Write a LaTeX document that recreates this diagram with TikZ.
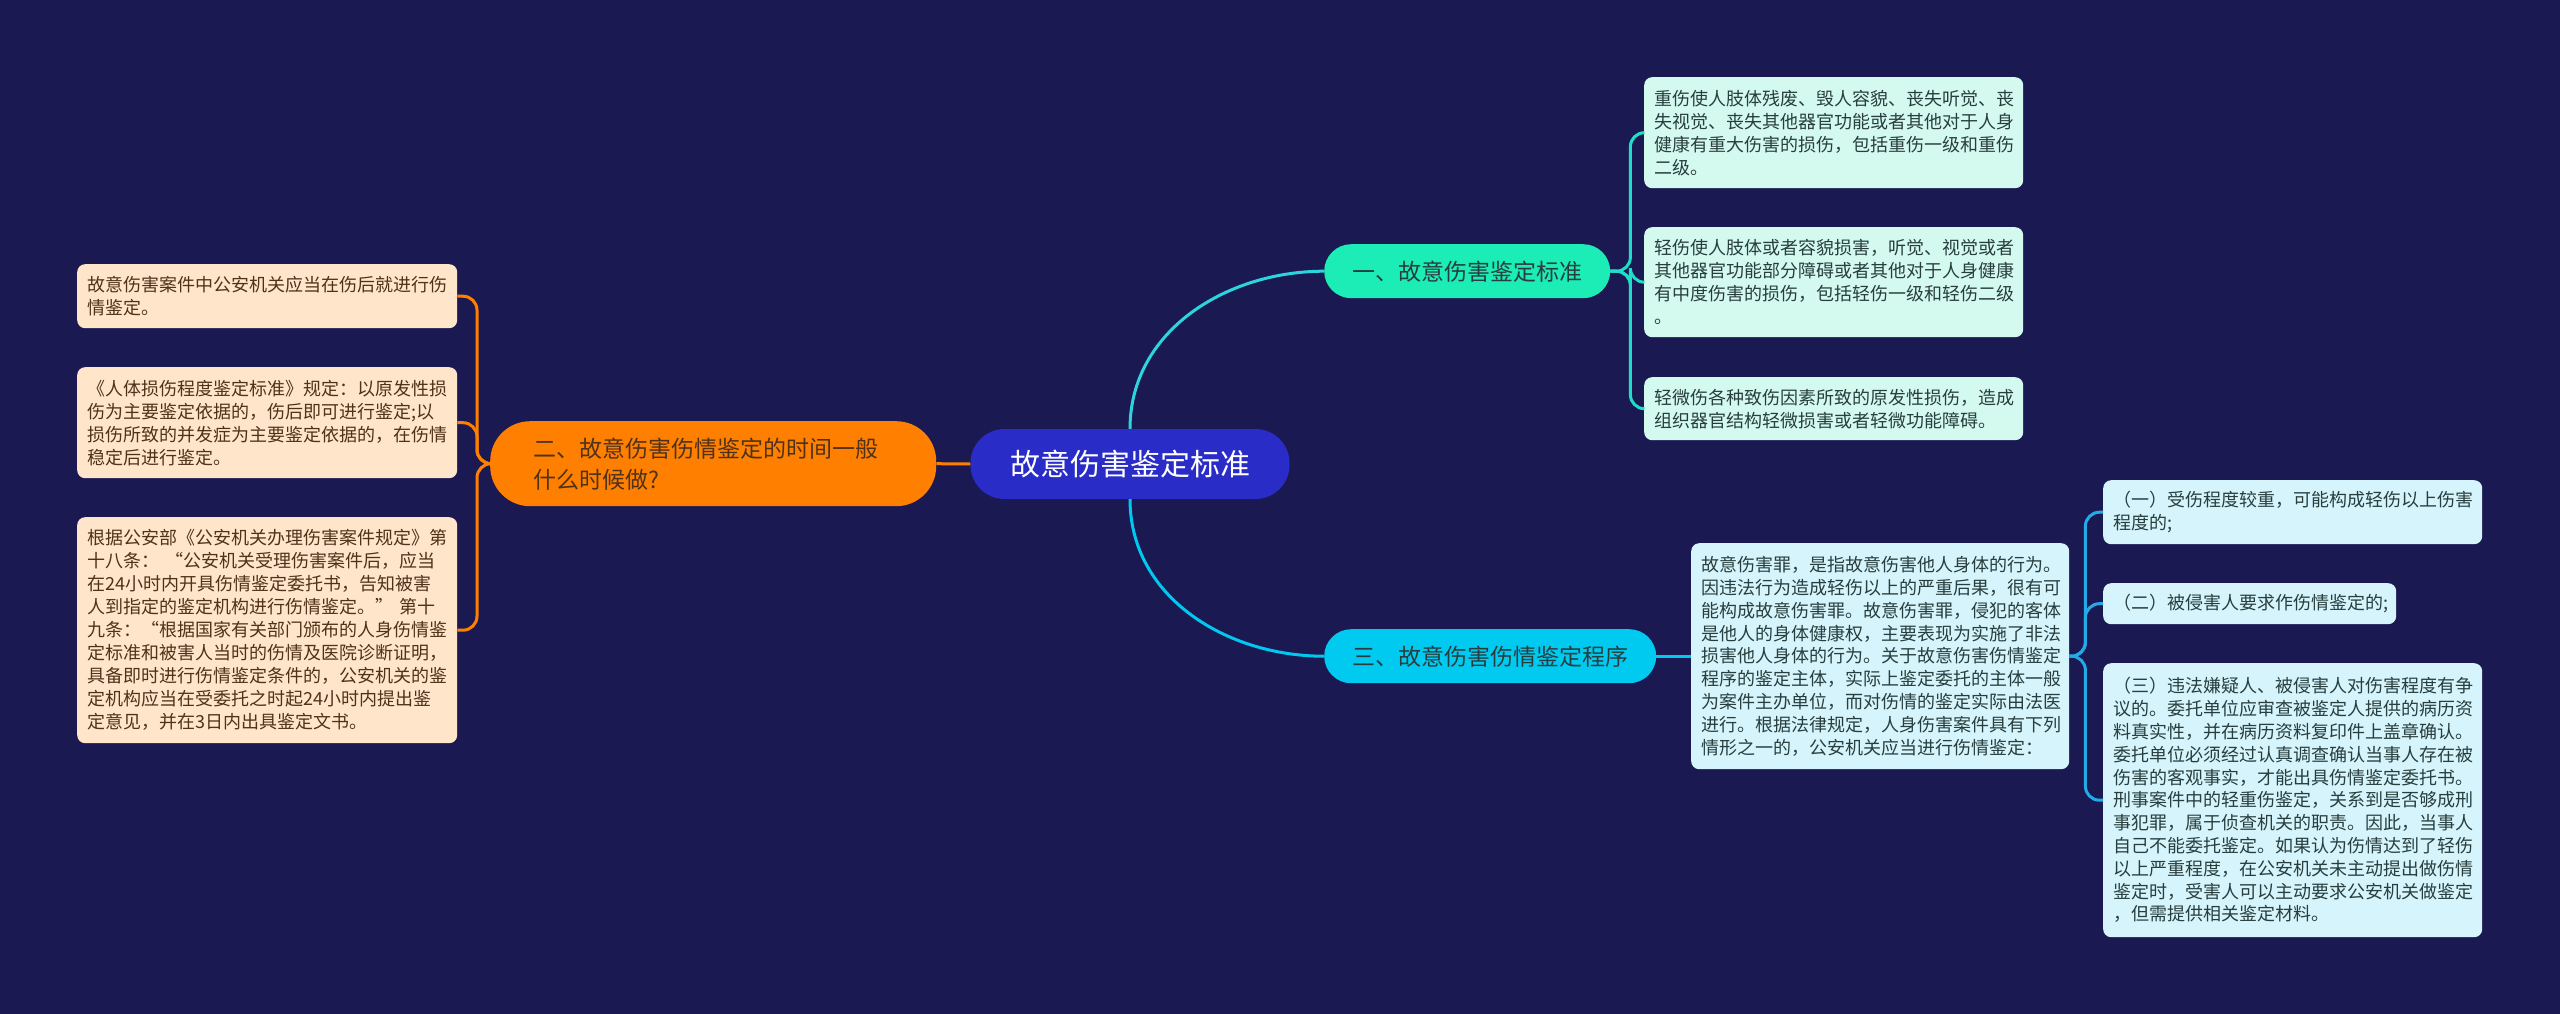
\documentclass[tikz,border=0pt]{standalone}
\usepackage{fontspec}
\setmainfont{Noto Sans CJK SC}
\newfontfamily\cjk{Noto Sans CJK SC}
\definecolor{bg}{RGB}{27,25,82}
\definecolor{rootc}{RGB}{42,44,200}
\definecolor{orangec}{RGB}{255,128,0}
\definecolor{peach}{RGB}{255,230,202}
\definecolor{tealc}{RGB}{28,236,182}
\definecolor{cyanc}{RGB}{0,202,240}
\definecolor{mint}{RGB}{212,250,240}
\definecolor{ice}{RGB}{214,244,251}
\definecolor{txtdark}{RGB}{40,62,62}
\definecolor{txtbrown}{RGB}{80,50,25}
\definecolor{lineA}{RGB}{45,212,222}
\definecolor{lineB}{RGB}{30,222,200}
\definecolor{lineC}{RGB}{0,200,240}
\definecolor{lineD}{RGB}{35,170,232}
\tikzset{
  base/.style={anchor=north west, inner ysep=0pt, align=left},
  leafL/.style={base, fill=peach, rounded corners=8pt, inner xsep=10pt, text=txtbrown,
    font=\cjk\fontsize{18}{23}\selectfont},
  leafR/.style={base, fill=mint, rounded corners=8pt, inner xsep=10pt, text=txtdark,
    font=\cjk\fontsize{18}{23}\selectfont},
  leafC/.style={base, fill=ice, rounded corners=8pt, inner xsep=10pt, text=txtdark,
    font=\cjk\fontsize{18}{22.8}\selectfont},
  branch/.style={base, rounded corners=27pt, text=txtdark, align=center,
    font=\cjk\fontsize{23}{30}\selectfont},
  conn/.style={line width=3pt, rounded corners=14pt},
}
\begin{document}
\begin{tikzpicture}[x=1pt,y=-1pt]
\useasboundingbox (0,0) rectangle (2560,1014);
\fill[bg] (0,0) rectangle (2560,1014);

% root
\node[anchor=center, fill=rootc, rounded corners=34pt, minimum width=319pt, minimum height=70pt,
  text=white, font=\cjk\fontsize{30}{36}\selectfont] (root) at (1130,464) {故意伤害鉴定标准};

% left branch
\node[base, fill=orangec, rounded corners=40pt, minimum width=446pt, minimum height=85pt,
  inner xsep=43pt, text width=360pt, text=txtbrown, font=\cjk\fontsize{23}{31}\selectfont]
  (o) at (490,421) {二、故意伤害伤情鉴定的时间一般\\什么时候做?};

\node[leafL, minimum width=380pt, minimum height=64pt, text width=360pt] (l1) at (77,264)
{故意伤害案件中公安机关应当在伤后就进行伤\\情鉴定。};
\node[leafL, minimum width=380pt, minimum height=111pt, text width=360pt] (l2) at (77,367)
{《人体损伤程度鉴定标准》规定：以原发性损\\伤为主要鉴定依据的，伤后即可进行鉴定;以\\损伤所致的并发症为主要鉴定依据的，在伤情\\稳定后进行鉴定。};
\node[leafL, minimum width=380pt, minimum height=226pt, text width=360pt] (l3) at (77,517)
{根据公安部《公安机关办理伤害案件规定》第\\十八条：\ “公安机关受理伤害案件后，应当\\在24小时内开具伤情鉴定委托书，告知被害\\人到指定的鉴定机构进行伤情鉴定。”\ 第十\\九条：“根据国家有关部门颁布的人身伤情鉴\\定标准和被害人当时的伤情及医院诊断证明，\\具备即时进行伤情鉴定条件的，公安机关的鉴\\定机构应当在受委托之时起24小时内提出鉴\\定意见，并在3日内出具鉴定文书。};

% right branches
\node[branch, fill=tealc, minimum width=286pt, minimum height=54pt] (b1) at (1324,244)
{一、故意伤害鉴定标准};
\node[branch, fill=cyanc, minimum width=332pt, minimum height=54pt] (b3) at (1324,629)
{三、故意伤害伤情鉴定程序};

\node[leafR, minimum width=379pt, minimum height=111pt, text width=359pt] (r1) at (1644,77)
{重伤使人肢体残废、毁人容貌、丧失听觉、丧\\失视觉、丧失其他器官功能或者其他对于人身\\健康有重大伤害的损伤，包括重伤一级和重伤\\二级。};
\node[leafR, minimum width=379pt, minimum height=110pt, text width=359pt] (r2) at (1644,227)
{轻伤使人肢体或者容貌损害，听觉、视觉或者\\其他器官功能部分障碍或者其他对于人身健康\\有中度伤害的损伤，包括轻伤一级和轻伤二级\\。};
\node[leafR, minimum width=379pt, minimum height=63pt, text width=359pt] (r3) at (1644,377)
{轻微伤各种致伤因素所致的原发性损伤，造成\\组织器官结构轻微损害或者轻微功能障碍。};

\node[leafC, minimum width=378pt, minimum height=226pt, text width=358pt] (m) at (1691,543)
{故意伤害罪，是指故意伤害他人身体的行为。\\因违法行为造成轻伤以上的严重后果，很有可\\能构成故意伤害罪。故意伤害罪，侵犯的客体\\是他人的身体健康权，主要表现为实施了非法\\损害他人身体的行为。关于故意伤害伤情鉴定\\程序的鉴定主体，实际上鉴定委托的主体一般\\为案件主办单位，而对伤情的鉴定实际由法医\\进行。根据法律规定，人身伤害案件具有下列\\情形之一的，公安机关应当进行伤情鉴定：};

\node[leafC, minimum width=379pt, minimum height=64pt, text width=359pt] (c1) at (2103,480)
{（一）受伤程度较重，可能构成轻伤以上伤害\\程度的;};
\node[leafC, minimum width=293pt, minimum height=41pt, text width=273pt] (c2) at (2103,583)
{（二）被侵害人要求作伤情鉴定的;};
\node[leafC, minimum width=379pt, minimum height=274pt, text width=359pt] (c3) at (2103,663)
{（三）违法嫌疑人、被侵害人对伤害程度有争\\议的。委托单位应审查被鉴定人提供的病历资\\料真实性，并在病历资料复印件上盖章确认。\\委托单位必须经过认真调查确认当事人存在被\\伤害的客观事实，才能出具伤情鉴定委托书。\\刑事案件中的轻重伤鉴定，关系到是否够成刑\\事犯罪，属于侦查机关的职责。因此，当事人\\自己不能委托鉴定。如果认为伤情达到了轻伤\\以上严重程度，在公安机关未主动提出做伤情\\鉴定时，受害人可以主动要求公安机关做鉴定\\，但需提供相关鉴定材料。};

% connectors
\draw[conn, orangec] (root.west) -- (o.east);
\foreach \t in {l1,l2,l3} \draw[conn, orangec] (o.west) -- ++(-13,0) |- (\t.east);
\draw[line width=3pt, lineA] (root.north) to[out=90,in=180] (b1.west);
\draw[line width=3pt, lineC] (root.south) to[out=-90,in=180] (b3.west);
\foreach \t in {r1,r2,r3} \draw[conn, lineB] (b1.east) -- ++(20,0) |- (\t.west);
\draw[conn, lineC] (b3.east) -- (m.west);
\foreach \t in {c1,c2,c3} \draw[conn, lineD] (m.east) -- ++(16,0) |- (\t.west);
\end{tikzpicture}
\end{document}
